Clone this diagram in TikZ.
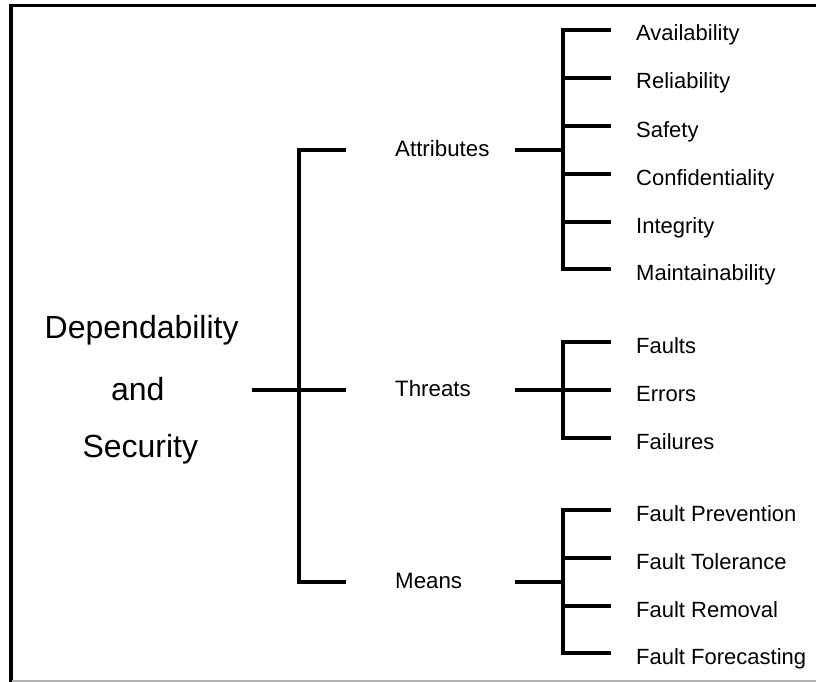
\documentclass[tikz,border=0pt]{standalone}
\usepackage{fontspec}
\setmainfont{Liberation Sans}
\begin{document}
\begin{tikzpicture}[x=1pt,y=-1pt,
  tree/.style={line width=3.2pt},
  rootlabel/.style={anchor=base, inner sep=0pt, font=\fontsize{32}{36}\selectfont},
  midlabel/.style={anchor=west, inner sep=0pt, text height=12pt, text depth=0pt, font=\fontsize{22.3}{26}\selectfont},
  leaflabel/.style={anchor=west, inner sep=0pt, text height=22pt, text depth=0pt, font=\fontsize{22}{26}\selectfont},
]
\useasboundingbox (0,0) rectangle (816,682);
\fill[white] (0,0) rectangle (816,682);

% outer frame
\draw[line width=3.6pt] (11,682) -- (11,5.5) -- (816,5.5);
\draw[gray!60, line width=1.4pt] (12,680.8) -- (816,680.8);

% root
\node[rootlabel] (r1) at (141.7,338) {Dependability};
\node[rootlabel] (r2) at (137.8,400) {and};
\node[rootlabel] (r3) at (140.3,457.5) {Security};
\coordinate (rootJ) at (252,390);
\coordinate (tr) at (299,390);

% second level
\node[midlabel] (attr)  at (395,150) {Attributes};
\node[midlabel] (thr)   at (395,390) {Threats};
\node[midlabel] (means) at (395,582) {Means};

\draw[tree] ([xshift=-49pt]attr.west) -| (tr) |- ([xshift=-49pt]means.west);
\draw[tree] (rootJ) -- ([xshift=-49pt]thr.west);

% junctions of the sub-trees
\coordinate (jA) at (563,150);
\coordinate (jT) at (563,390);
\coordinate (jM) at (563,582);
\draw[tree] ([xshift=120pt]attr.west)  -- (jA);
\draw[tree] ([xshift=120pt]thr.west)   -- (jT);
\draw[tree] ([xshift=120pt]means.west) -- (jM);

% attributes
\node[leaflabel] (av) at (636,30)  {Availability};
\node[leaflabel] (re) at (636,78)  {Reliability};
\node[leaflabel] (sa) at (636,126) {Safety};
\node[leaflabel] (co) at (636,174) {Confidentiality};
\node[leaflabel] (ig) at (636,222) {Integrity};
\node[leaflabel] (mt) at (636,269) {Maintainability};
\draw[tree] ([xshift=-25pt]av.west) -| (jA) |- ([xshift=-25pt]mt.west);
\foreach \n in {re,sa,co,ig}
  \draw[tree] (jA |- \n.west) -- ([xshift=-25pt]\n.west);

% threats
\node[leaflabel] (fa) at (636,342) {Faults};
\node[leaflabel] (er) at (636,390) {Errors};
\node[leaflabel] (fl) at (636,438) {Failures};
\draw[tree] ([xshift=-25pt]fa.west) -| (jT) |- ([xshift=-25pt]fl.west);
\draw[tree] (jT) -- ([xshift=-25pt]er.west);

% means
\node[leaflabel] (fp) at (636,510) {Fault Prevention};
\node[leaflabel] (ft) at (636,558) {Fault Tolerance};
\node[leaflabel] (fr) at (636,606) {Fault Removal};
\node[leaflabel] (ff) at (636,653) {Fault Forecasting};
\draw[tree] ([xshift=-25pt]fp.west) -| (jM) |- ([xshift=-25pt]ff.west);
\foreach \n in {ft,fr}
  \draw[tree] (jM |- \n.west) -- ([xshift=-25pt]\n.west);
\end{tikzpicture}
\end{document}
